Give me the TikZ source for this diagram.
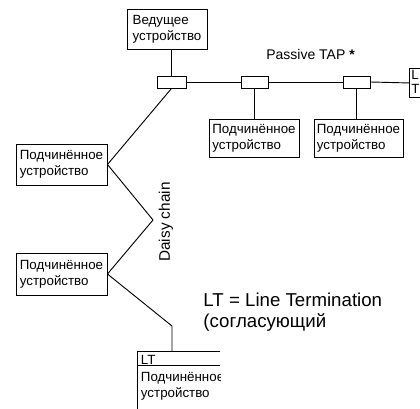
\documentclass[tikz,border=0pt]{standalone}
\usepackage{fontspec}
\setmainfont{Liberation Sans}
\begin{document}
\begin{tikzpicture}[x=0.75pt,y=-0.75pt,
  line width=0.7pt,
  box/.style={draw, rectangle, inner sep=0pt, align=left, font=\fontsize{10pt}{12pt}\selectfont},
  tapbox/.style={draw, rectangle, inner sep=0pt, minimum width=27*0.75pt, minimum height=12*0.75pt},
  txt/.style={inner sep=0pt, align=left, font=\fontsize{10pt}{12pt}\selectfont},
]
\path[use as bounding box] (0,0) rectangle (420,409);

\node[box, minimum width=80*0.75pt, minimum height=40*0.75pt] (master) at (167,29) {Ведущее\\устройство};
\node[tapbox, minimum width=29*0.75pt] (c0) at (171.5,82) {};
\node[tapbox] (tap1) at (254.5,82) {};
\node[tapbox] (tap2) at (356.5,82) {};
\node[box, minimum width=90*0.75pt, minimum height=38*0.75pt] (ts1) at (254,138) {Подчинённое\\устройство};
\node[box, minimum width=89*0.75pt, minimum height=38*0.75pt] (ts2) at (358.5,138) {Подчинённое\\устройство};
\node[draw, rectangle, inner sep=0pt, minimum width=30*0.75pt, minimum height=29*0.75pt, anchor=north west] (ltr) at (409,68) {};
\node[txt, anchor=north west, font=\fontsize{10pt}{11pt}\selectfont] (ltrtext) at (411,69.5) {L\\T};
\node[box, minimum width=91*0.75pt, minimum height=41*0.75pt] (s1) at (61.5,164.5) {Подчинённое\\устройство};
\node[box, minimum width=91*0.75pt, minimum height=42*0.75pt] (s2) at (61.5,274) {Подчинённое\\устройство};

\begin{scope}
\clip (0,0) rectangle (220,409);
\node[draw, rectangle, inner sep=0pt, minimum width=120*0.75pt, minimum height=80*0.75pt, anchor=north west] (bb) at (137,351) {};
\coordinate (dl) at (137,365);
\draw (bb.west |- dl) -- (bb.east |- dl);
\node[txt, anchor=north west] (bblt) at (140.5,354.5) {LT};
\node[txt, anchor=north west] (bbtext) at (140.5,372) {Подчинённое\\устройство};
\end{scope}

\node[inner sep=0pt, font=\fontsize{10.5pt}{12pt}\selectfont] (passive) at (310.5,54.5) {Passive TAP \textbf{*}};
\node[inner sep=0pt, rotate=90, font=\fontsize{11.5pt}{12pt}\selectfont] (daisy) at (166,222) {Daisy chain};
\node[inner sep=0pt, anchor=north west, align=left, font=\fontsize{14pt}{15.75pt}\selectfont] (note) at (203,293) {LT = Line Termination\\(согласующий};

\draw (c0.north) -- (c0.north |- master.south);
\draw (c0.east) -- (tap1.west);
\draw (tap1.east) -- (tap2.west);
\draw (tap2.east) -- (ltr.west);
\draw (tap1.south) -- (tap1.south |- ts1.north);
\draw (tap2.south) -- (tap2.south |- ts2.north);
\coordinate (v1) at (153,220);
\coordinate (k) at (172,326);
\draw (c0.south) -- (s1.east) -- (v1) -- (s2.east) -- (k) -- (k |- bb.north);
\end{tikzpicture}
\end{document}
